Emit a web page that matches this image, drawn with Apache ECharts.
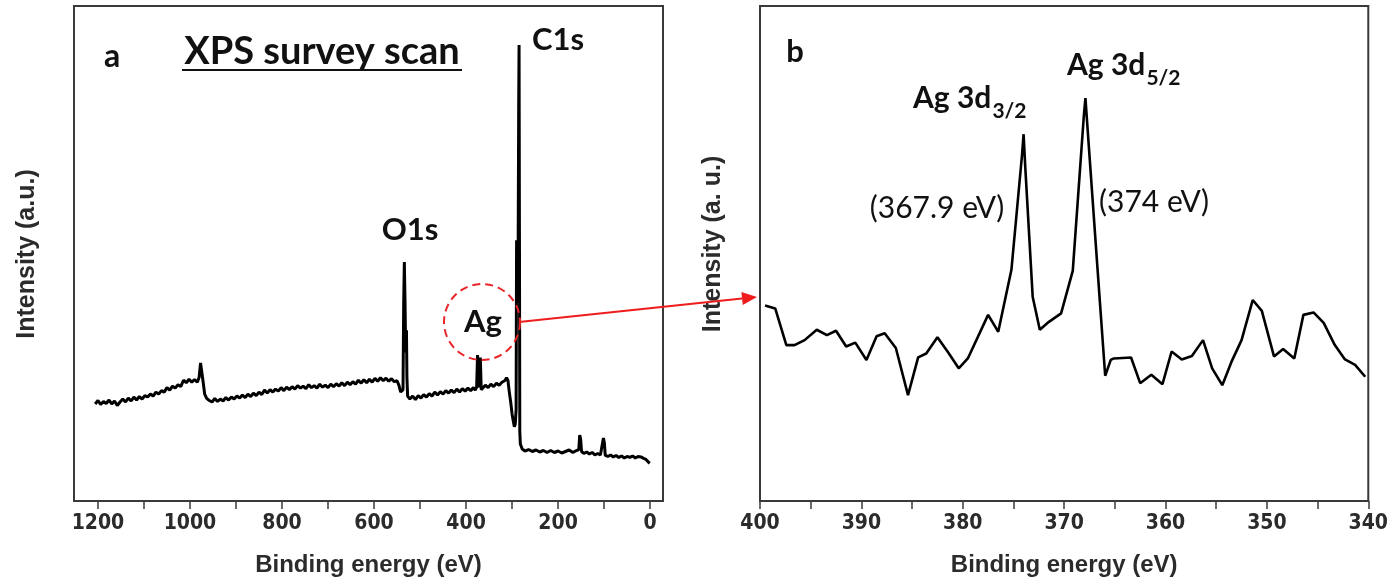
<!DOCTYPE html>
<html>
<head>
<meta charset="utf-8">
<script src="https://cdn.jsdelivr.net/npm/echarts@6/dist/echarts.min.js"></script>
<style>
  html, body { margin: 0; padding: 0; background: #ffffff; }
  #chart { width: 1391px; height: 583px; }
</style>
</head>
<body>
<div id="chart"></div>
<script>
// ---- (a) XPS survey scan: binding energy (eV) and intensity (a.u.) ----
const surveyEnergy = [
  1206, 1200, 1194, 1188, 1182, 1176, 1170, 1164, 1158, 1152, 1146, 1140, 1134, 1128, 1122, 1116,
  1110, 1104, 1098, 1092, 1086, 1080, 1074, 1068, 1062, 1056, 1050, 1044, 1038, 1032, 1026, 1020,
  1014, 1008, 1002, 996, 990, 984, 980, 977, 975, 972, 968, 964, 958, 952, 946, 940,
  934, 928, 922, 916, 910, 904, 898, 892, 886, 880, 874, 868, 862, 856, 850, 844,
  838, 832, 826, 820, 814, 808, 802, 796, 790, 784, 778, 772, 766, 760, 754, 748,
  742, 736, 730, 724, 718, 712, 706, 700, 694, 688, 682, 676, 670, 664, 658, 652,
  646, 640, 634, 628, 622, 616, 610, 604, 598, 592, 586, 580, 574, 568, 562, 556,
  550, 546, 542, 539, 537, 535.5, 534.1, 532.6, 531.2, 529.5, 528.5, 527, 522, 516, 510, 504,
  498, 492, 486, 480, 474, 468, 462, 456, 450, 444, 438, 432, 426, 420, 414, 408,
  402, 396, 390, 384, 380, 377, 375, 373, 371, 369, 367, 364, 358, 352, 346, 340,
  334, 328, 322, 316, 312, 309, 306, 303, 300, 297.5, 295, 293, 291.2, 290.2, 289, 287,
  285.6, 284.8, 284, 283.2, 282, 278, 272, 264, 256, 248, 240, 232, 224, 216, 208, 200,
  192, 184, 176, 168, 160, 155, 153, 151, 149, 144, 138, 132, 126, 120, 114, 108,
  104, 101.5, 99.5, 97.5, 92, 86, 80, 74, 68, 62, 56, 50, 44, 38, 32, 26,
  20, 14, 9, 5, 1
];
const surveyIntensity = [
  19.6, 20.3, 19.5, 20.1, 19.7, 20.4, 19.6, 20.2, 19.3, 20.0, 20.6, 20.0, 20.8, 20.2, 21.0, 20.4,
  21.1, 20.6, 21.3, 21.0, 21.6, 21.2, 22.0, 21.6, 22.3, 22.0, 22.9, 22.4, 23.2, 22.8, 23.5, 23.1,
  24.4, 23.9, 24.6, 24.0, 24.5, 24.0, 25.0, 27.9, 27.5, 24.5, 21.6, 20.8, 20.3, 20.0, 20.7, 20.1,
  20.6, 20.2, 20.9, 20.4, 21.0, 20.6, 21.2, 20.8, 21.4, 20.9, 21.6, 21.1, 21.8, 21.3, 22.0, 21.5,
  22.4, 21.8, 22.5, 22.0, 22.6, 22.2, 22.9, 22.3, 23.0, 22.5, 23.1, 22.6, 23.3, 22.8, 23.2, 22.7,
  23.5, 22.9, 23.3, 22.8, 23.6, 23.0, 23.4, 22.9, 23.6, 23.1, 23.7, 23.2, 23.9, 23.3, 24.0, 23.5,
  24.1, 23.6, 24.4, 23.8, 24.5, 23.9, 24.6, 24.0, 24.8, 24.2, 24.9, 24.3, 24.8, 24.2, 24.7, 24.1,
  24.3, 23.4, 22.0, 21.8, 22.5, 40.0, 48.3, 40.0, 30.0, 34.5, 25.0, 21.2, 20.6, 21.2, 20.5, 21.3,
  20.8, 21.5, 21.0, 21.7, 21.2, 22.0, 21.4, 22.1, 21.6, 22.3, 21.8, 22.4, 21.9, 22.6, 22.0, 22.7,
  22.2, 22.8, 22.3, 22.9, 22.4, 23.0, 29.5, 23.5, 23.0, 29.0, 22.5, 22.8, 23.4, 22.9, 23.6, 23.1,
  23.8, 23.4, 24.0, 24.3, 24.9, 24.4, 22.0, 20.0, 17.6, 16.2, 15.0, 15.6, 18.5, 52.7, 40.0, 46.0,
  80.0, 92.1, 55.0, 14.0, 11.5, 10.5, 10.1, 10.4, 10.0, 10.3, 9.9, 10.2, 9.8, 10.2, 9.8, 10.1,
  9.7, 10.0, 10.3, 9.8, 10.2, 10.4, 13.3, 12.5, 10.0, 9.6, 9.9, 9.5, 9.8, 9.3, 9.6, 9.3,
  9.6, 12.7, 11.8, 9.2, 9.0, 9.3, 8.9, 9.2, 8.8, 9.1, 8.7, 9.0, 8.8, 9.1, 8.7, 9.0,
  8.9, 8.6, 8.4, 8.0, 7.6
];
const surveyTicks = [0, 100, 200, 300, 400, 500, 600, 700, 800, 900, 1000, 1100, 1200];
const surveyLabels = [0, 200, 400, 600, 800, 1000, 1200];

// ---- (b) Ag 3d region ----
const agEnergy = [
  399.5, 398.5, 397.4, 396.6, 395.6, 394.4, 393.4, 392.5, 391.5, 390.6, 389.5, 388.5, 387.7, 386.6,
  385.4, 384.4, 383.6, 382.5, 381.5, 380.4, 379.5, 377.5, 376.5, 375.2, 374.15, 374.0, 373.85, 373.1,
  372.4, 371.5, 370.3, 369.15, 368.05, 367.9, 367.75, 366.7, 365.95, 365.4, 365.1, 363.4, 362.5, 361.4,
  360.3, 359.4, 358.4, 357.4, 356.3, 355.4, 354.4, 353.5, 352.5, 351.4, 350.5, 349.3, 348.4, 347.3,
  346.4, 345.4, 344.4, 343.3, 342.3, 341.3, 340.3
];
const agIntensity = [
  39.5, 38.9, 31.5, 31.5, 32.5, 34.6, 33.5, 34.4, 31.2, 32.0, 28.5, 33.3, 33.9, 30.9,
  21.4, 29.0, 29.8, 33.1, 30.2, 26.8, 28.8, 37.6, 34.2, 46.7, 70.0, 74.1, 68.0, 41.2,
  34.6, 36.2, 37.9, 46.5, 78.0, 81.4, 77.0, 46.7, 25.3, 28.5, 28.8, 29.0, 23.8, 25.5,
  23.6, 30.2, 28.6, 29.3, 32.5, 26.8, 23.4, 28.1, 32.5, 40.6, 38.4, 29.2, 30.7, 28.8,
  37.6, 38.1, 36.0, 31.5, 28.6, 27.5, 25.1
];
const agTicks = [340, 345, 350, 355, 360, 365, 370, 375, 380, 385, 390, 395, 400];
const agLabels = [340, 350, 360, 370, 380, 390, 400];

const pair = (xs, ys) => xs.map((x, i) => [x, ys[i]]);

const FRAME = '#3a3a3a';
const AXIS_TEXT = '#2b2b2b';
const SANS = 'Liberation Sans, Arial, sans-serif';
const NARROW = '"Liberation Sans Narrow", "DejaVu Sans Condensed", "Liberation Sans", sans-serif';
const LABEL_FONT = 'Lato, "Noto Sans", sans-serif';

function xAxisFor(gridIndex, min, max, ticks, labels) {
  return {
    gridIndex: gridIndex, type: 'value', inverse: true, min: min, max: max,
    name: 'Binding energy (eV)', nameLocation: 'middle', nameGap: 52,
    nameTextStyle: { fontFamily: SANS, fontSize: 24, fontWeight: 'bold', color: AXIS_TEXT },
    axisLine: { show: true, onZero: false, lineStyle: { color: FRAME, width: 2 } },
    axisTick: { show: true, inside: false, length: 8, customValues: ticks,
                lineStyle: { color: FRAME, width: 1.5 } },
    axisLabel: { customValues: labels, margin: 12, fontFamily: NARROW, fontSize: 21,
                 fontWeight: 'bold', color: AXIS_TEXT, formatter: v => String(v) },
    splitLine: { show: false }
  };
}
function yAxisFor(gridIndex) {
  return {
    gridIndex: gridIndex, type: 'value', min: 0, max: 100,
    axisLine: { show: true, onZero: false, lineStyle: { color: FRAME, width: 2 } },
    axisTick: { show: false }, axisLabel: { show: false }, splitLine: { show: false }
  };
}

// width of a piece of text, used to seat the subscripts right after "Ag 3d"
const measureCtx = document.createElement('canvas').getContext('2d');
function textWidth(str, font) { measureCtx.font = font; return measureCtx.measureText(str).width; }

function label(text, x, y, size, weight, align) {
  return { type: 'text', x: x, y: y, z: 20,
    style: { text: text, fill: '#111', font: weight + ' ' + size + 'px ' + LABEL_FONT,
             align: align || 'center', verticalAlign: 'middle' } };
}
function subscripted(main, sub, x, y) {
  const w = textWidth(main, 'bold 30px ' + LABEL_FONT);
  return [label(main, x, y, 30, 'bold', 'left'), label(sub, x + w + 1, y + 13, 21, 'bold', 'left')];
}

// red arrow from the Ag marker of the survey to panel (b)
const arrowFrom = [519, 322], arrowTip = [757, 297];
const dx = arrowTip[0] - arrowFrom[0], dy = arrowTip[1] - arrowFrom[1];
const len = Math.hypot(dx, dy), ux = dx / len, uy = dy / len;
const headLen = 15, headHalf = 6.5;
const base = [arrowTip[0] - ux * headLen, arrowTip[1] - uy * headLen];

const chart = echarts.init(document.getElementById('chart'), null, { renderer: 'canvas' });
chart.setOption({
  animation: false,
  backgroundColor: '#ffffff',
  grid: [
    { left: 74, top: 6, width: 589, height: 495, show: true, borderColor: FRAME, borderWidth: 2 },
    { left: 760, top: 6, width: 610, height: 495, show: true, borderColor: FRAME, borderWidth: 2 }
  ],
  xAxis: [
    xAxisFor(0, -28, 1252, surveyTicks, surveyLabels),
    xAxisFor(1, 340, 400, agTicks, agLabels)
  ],
  yAxis: [yAxisFor(0), yAxisFor(1)],
  series: [
    { type: 'line', xAxisIndex: 0, yAxisIndex: 0, data: pair(surveyEnergy, surveyIntensity),
      showSymbol: false, lineStyle: { color: '#000', width: 3 }, z: 5 },
    { type: 'line', xAxisIndex: 1, yAxisIndex: 1, data: pair(agEnergy, agIntensity),
      showSymbol: false, lineStyle: { color: '#000', width: 2.6 }, z: 5 }
  ],
  graphic: [
    // axis titles
    { type: 'text', x: 27, y: 254, rotation: Math.PI / 2,
      style: { text: 'Intensity (a.u.)', fill: AXIS_TEXT, font: 'bold 25px ' + SANS,
               align: 'center', verticalAlign: 'middle' } },
    { type: 'text', x: 713, y: 244, rotation: Math.PI / 2,
      style: { text: 'Intensity (a. u.)', fill: AXIS_TEXT, font: 'bold 25px ' + SANS,
               align: 'center', verticalAlign: 'middle' } },

    // panel (a) annotations
    label('a', 112, 57, 32, 'bold'),
    label('XPS survey scan', 322, 52, 38, 'bold'),
    { type: 'line', z: 20, shape: { x1: 182, y1: 70, x2: 462, y2: 70 },
      style: { stroke: '#111', lineWidth: 2 } },
    label('C1s', 558, 40, 31, 'bold'),
    label('O1s', 410, 230, 31, 'bold'),
    label('Ag', 483, 322, 31, 'bold'),
    { type: 'circle', z: 20, shape: { cx: 482, cy: 322, r: 38 },
      style: { fill: 'none', stroke: '#e8262a', lineWidth: 2, lineDash: [8, 5] } },
    { type: 'line', z: 20,
      shape: { x1: arrowFrom[0], y1: arrowFrom[1], x2: base[0], y2: base[1] },
      style: { stroke: '#ee1c1c', lineWidth: 2 } },
    { type: 'polygon', z: 20,
      shape: { points: [arrowTip,
        [base[0] - uy * headHalf, base[1] + ux * headHalf],
        [base[0] + uy * headHalf, base[1] - ux * headHalf]] },
      style: { fill: '#ee1c1c' } },

    // panel (b) annotations
    label('b', 795, 52, 31, 'bold'),
    ...subscripted('Ag 3d', '3/2', 913, 98),
    ...subscripted('Ag 3d', '5/2', 1067, 65),
    label('(367.9 eV)', 937, 208, 30, 'normal'),
    label('(374 eV)', 1154, 202, 30, 'normal')
  ]
});
</script>
</body>
</html>
